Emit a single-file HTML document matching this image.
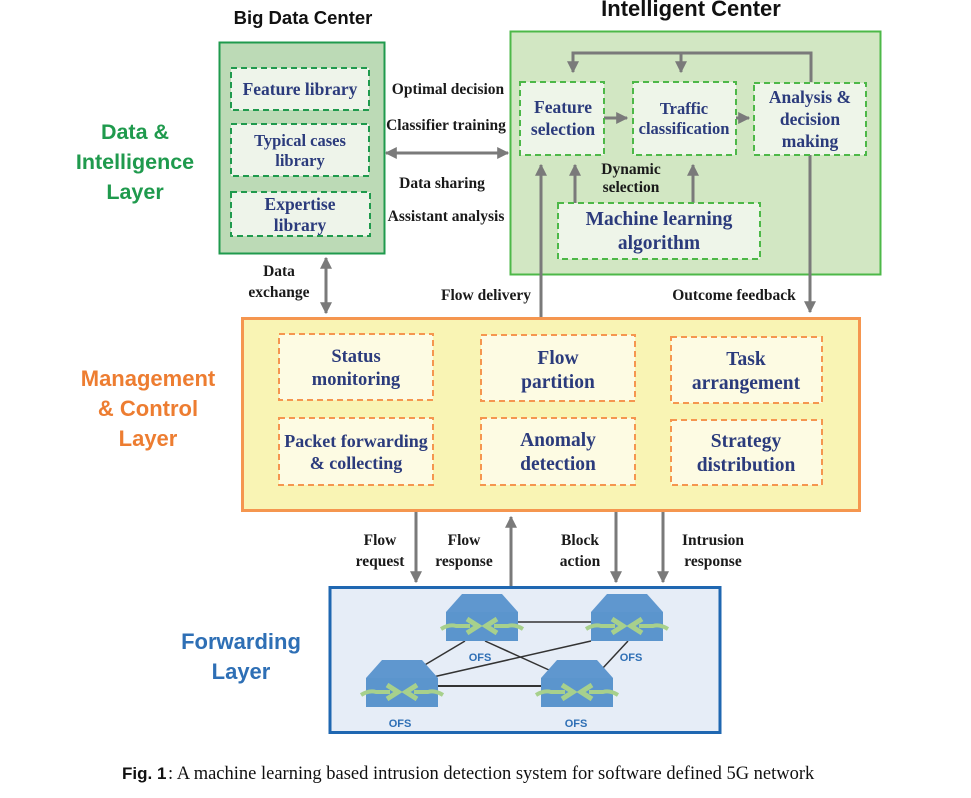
<!DOCTYPE html>
<html><head><meta charset="utf-8"><style>
body{margin:0;background:#fff;}
svg{display:block;}
.t{font-family:"Liberation Serif",serif;font-weight:bold;fill:#2b3b7c;text-anchor:middle;}
.l{font-family:"Liberation Serif",serif;font-weight:bold;fill:#1a1a1a;text-anchor:middle;font-size:15.5px;}
.h{font-family:"Liberation Sans",sans-serif;font-weight:bold;text-anchor:middle;}
</style></head><body>
<svg width="971" height="798" viewBox="0 0 971 798" xmlns="http://www.w3.org/2000/svg">
<defs>
<marker id="a" viewBox="0 0 10 10" refX="9" refY="5" markerWidth="4" markerHeight="4" orient="auto-start-reverse"><path d="M0,0L10,5L0,10z" fill="#7a7a7a"/></marker>
<g id="sw">
<path d="M16,0H56L72,18H0Z" fill="#5f97cf"/>
<rect x="0" y="18" width="72" height="29" fill="#5b95cd"/>
<path d="M-5,35 Q3,30 10,32 H24" fill="none" stroke="#a7d08c" stroke-width="4"/>
<path d="M21,25 L32,32 L21,39" fill="none" stroke="#a7d08c" stroke-width="5"/>
<path d="M77,35 Q69,30 62,32 H48" fill="none" stroke="#a7d08c" stroke-width="4"/>
<path d="M51,25 L40,32 L51,39" fill="none" stroke="#a7d08c" stroke-width="5"/>
</g>
</defs>

<!-- titles -->
<text x="303" y="24" class="h" font-size="18.5" fill="#111">Big Data Center</text>
<text x="691" y="16" class="h" font-size="22" fill="#111">Intelligent Center</text>

<!-- left layer labels -->
<g class="h" font-size="21.5"><text x="135" y="139" fill="#1f9a4d">Data &amp;</text><text x="135" y="169" fill="#1f9a4d">Intelligence</text><text x="135" y="199" fill="#1f9a4d">Layer</text></g>
<g class="h" font-size="22"><text x="148" y="386" fill="#ed7d31">Management</text><text x="148" y="416" fill="#ed7d31">&amp; Control</text><text x="148" y="446" fill="#ed7d31">Layer</text></g>
<g class="h" font-size="22"><text x="241" y="649" fill="#2e6fb5">Forwarding</text><text x="241" y="679" fill="#2e6fb5">Layer</text></g>

<!-- Big data center -->
<rect x="219.5" y="42.5" width="165" height="211" fill="#bcdab6" stroke="#1f9a4d" stroke-width="2"/>
<g fill="#eef4ea" stroke="#1f9a4d" stroke-width="2" stroke-dasharray="6,4">
<rect x="231" y="68" width="138" height="42"/><rect x="231" y="124" width="138" height="52"/><rect x="231" y="192" width="139" height="44"/></g>
<text x="300" y="95" class="t" font-size="17.5">Feature library</text>
<text x="300" y="146" class="t" font-size="16.5">Typical cases</text><text x="300" y="166" class="t" font-size="16.5">library</text>
<text x="300" y="210" class="t" font-size="17.5">Expertise</text><text x="300" y="231" class="t" font-size="17.5">library</text>

<!-- middle labels -->
<text x="448" y="94" class="l">Optimal decision</text>
<text x="446" y="130" class="l">Classifier training</text>
<text x="442" y="188" class="l">Data sharing</text>
<text x="446" y="221" class="l">Assistant analysis</text>
<line x1="386" y1="153" x2="508" y2="153" stroke="#7a7a7a" stroke-width="3" marker-start="url(#a)" marker-end="url(#a)"/>

<!-- Intelligent center -->
<rect x="510.5" y="31.5" width="370" height="243" fill="#d2e7c3" stroke="#4db848" stroke-width="2"/>
<g fill="none" stroke="#7a7a7a" stroke-width="3">
<path d="M811,82V53H573V72" marker-end="url(#a)"/>
<path d="M681,53V72" marker-end="url(#a)"/>
<path d="M604,118H627" marker-end="url(#a)"/>
<path d="M736,118H749" marker-end="url(#a)"/>
<path d="M575,203V165" marker-end="url(#a)"/>
<path d="M693,203V165" marker-end="url(#a)"/>
<path d="M541,318V165" marker-end="url(#a)"/>
<path d="M810,155V312" marker-end="url(#a)"/>
<path d="M326,258V313" marker-start="url(#a)" marker-end="url(#a)"/>
</g>
<g fill="#eef5e9" stroke="#4db848" stroke-width="2" stroke-dasharray="6,4">
<rect x="520" y="82" width="84" height="73"/><rect x="633" y="82" width="103" height="73"/><rect x="754" y="83" width="112" height="72"/><rect x="558" y="203" width="202" height="56"/></g>
<text x="563" y="113" class="t" font-size="17.5">Feature</text><text x="563" y="135" class="t" font-size="17.5">selection</text>
<text x="684" y="114" class="t" font-size="16.5">Traffic</text><text x="684" y="134" class="t" font-size="16.5">classification</text>
<text x="810" y="103" class="t" font-size="17.5">Analysis &amp;</text><text x="810" y="125" class="t" font-size="17.5">decision</text><text x="810" y="147" class="t" font-size="17.5">making</text>
<text x="659" y="225" class="t" font-size="19.5">Machine learning</text><text x="659" y="249" class="t" font-size="19.5">algorithm</text>
<text x="631" y="174" class="l" font-size="14">Dynamic</text><text x="631" y="192" class="l" font-size="14">selection</text>

<text x="279" y="276" class="l">Data</text><text x="279" y="297" class="l">exchange</text>
<text x="486" y="300" class="l">Flow delivery</text>
<text x="734" y="300" class="l">Outcome feedback</text>

<!-- Management -->
<rect x="242.5" y="318.5" width="617" height="192" fill="#f9f4b4" stroke="#f5964f" stroke-width="3"/>
<g fill="#fdfbe3" stroke="#f5964f" stroke-width="2" stroke-dasharray="6,4">
<rect x="279" y="334" width="154" height="66"/><rect x="481" y="335" width="154" height="66"/><rect x="671" y="337" width="151" height="66"/>
<rect x="279" y="418" width="154" height="67"/><rect x="481" y="418" width="154" height="67"/><rect x="671" y="420" width="151" height="65"/></g>
<text x="356" y="362" class="t" font-size="18.5">Status</text><text x="356" y="385" class="t" font-size="18.5">monitoring</text>
<text x="558" y="364" class="t" font-size="19.5">Flow</text><text x="558" y="388" class="t" font-size="19.5">partition</text>
<text x="746" y="365" class="t" font-size="19.5">Task</text><text x="746" y="389" class="t" font-size="19.5">arrangement</text>
<text x="356" y="447" class="t" font-size="18">Packet forwarding</text><text x="356" y="469" class="t" font-size="18">&amp; collecting</text>
<text x="558" y="446" class="t" font-size="19.5">Anomaly</text><text x="558" y="470" class="t" font-size="19.5">detection</text>
<text x="746" y="447" class="t" font-size="19.5">Strategy</text><text x="746" y="471" class="t" font-size="19.5">distribution</text>

<!-- arrows to forwarding -->
<g fill="none" stroke="#7a7a7a" stroke-width="3">
<path d="M416,512V582" marker-end="url(#a)"/>
<path d="M511,587V517" marker-end="url(#a)"/>
<path d="M616,512V582" marker-end="url(#a)"/>
<path d="M663,512V582" marker-end="url(#a)"/>
</g>
<text x="380" y="545" class="l">Flow</text><text x="380" y="566" class="l">request</text>
<text x="464" y="545" class="l">Flow</text><text x="464" y="566" class="l">response</text>
<text x="580" y="545" class="l">Block</text><text x="580" y="566" class="l">action</text>
<text x="713" y="545" class="l">Intrusion</text><text x="713" y="566" class="l">response</text>

<!-- Forwarding -->
<rect x="330" y="587.5" width="390" height="145" fill="#e6edf7" stroke="#1f67b1" stroke-width="3"/>
<g stroke="#333" stroke-width="1.5">
<line x1="517" y1="622" x2="591" y2="622"/>
<line x1="465" y1="641" x2="423" y2="666"/>
<line x1="485" y1="641" x2="549" y2="670"/>
<line x1="591" y1="641" x2="433" y2="677"/>
<line x1="628" y1="641" x2="602" y2="669"/>
<line x1="434" y1="686" x2="541" y2="686" stroke-width="2"/>
</g>
<use href="#sw" x="446" y="594"/>
<use href="#sw" x="591" y="594"/>
<use href="#sw" x="366" y="660"/>
<use href="#sw" x="541" y="660"/>
<g class="h" font-size="11"><text x="480" y="661" fill="#2e6fb5">OFS</text><text x="631" y="661" fill="#2e6fb5">OFS</text><text x="400" y="727" fill="#2e6fb5">OFS</text><text x="576" y="727" fill="#2e6fb5">OFS</text></g>

<!-- caption -->
<text x="122" y="779" font-family="Liberation Sans,sans-serif" font-weight="bold" font-size="17" fill="#111">Fig. 1</text>
<text x="168" y="779" font-family="Liberation Serif,serif" font-size="18.5" fill="#111">: A machine learning based intrusion detection system for software defined 5G network</text>
</svg>
</body></html>
